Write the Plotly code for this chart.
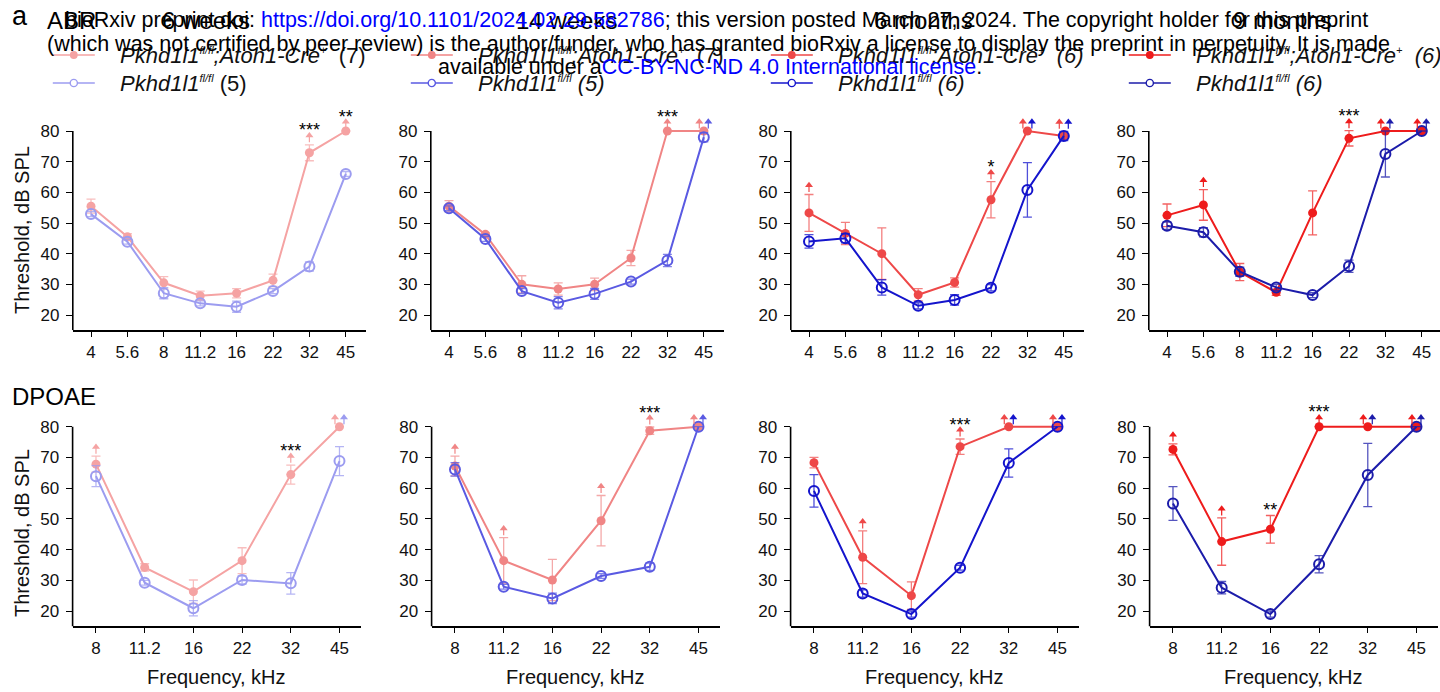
import plotly.graph_objects as go

W, H = 1440, 692

# ---------------- data ----------------
ABR_FREQ = ["4", "5.6", "8", "11.2", "16", "22", "32", "45"]
DPOAE_FREQ = ["8", "11.2", "16", "22", "32", "45"]
AGES = ["6 weeks", "14 weeks", "6 months", "9 months"]
N_CRE = ["(7)", "(7)", "<i>(6)</i>", "<i>(6)</i>"]
N_CTRL = ["(5)", "<i>(5)</i>", "<i>(6)</i>", "<i>(6)</i>"]
Y_TICKS = [20, 30, 40, 50, 60, 70, 80]

# ABR thresholds (mean, SEM), dB SPL
abr_6w_cre = [55.5, 45.5, 30.5, 26.3, 27.1, 31.3, 72.9, 80.0]
abr_6w_cre_sem = [2.3, 1.0, 2.0, 1.5, 1.5, 2.0, 2.6, 0.0]
abr_6w_ctrl = [52.9, 43.9, 27.1, 23.8, 22.7, 27.8, 35.8, 66.0]
abr_6w_ctrl_sem = [0.8, 0.8, 1.8, 0.8, 1.8, 0.8, 1.5, 0.8]
abr_6w_cre_up = [0, 0, 0, 0, 0, 0, 1, 1]
abr_6w_ctrl_up = [0, 0, 0, 0, 0, 0, 0, 0]
abr_6w_sig = ["", "", "", "", "", "", "***", "**"]

abr_14w_cre = [55.5, 46.3, 30.0, 28.5, 30.0, 38.6, 80.0, 80.0]
abr_14w_cre_sem = [1.8, 0.5, 2.8, 2.0, 2.0, 2.5, 0.0, 0.0]
abr_14w_ctrl = [54.8, 44.8, 27.8, 24.0, 26.9, 30.9, 37.8, 78.0]
abr_14w_ctrl_sem = [0.8, 0.8, 0.8, 2.0, 1.8, 0.8, 2.0, 1.5]
abr_14w_cre_up = [0, 0, 0, 0, 0, 0, 1, 1]
abr_14w_ctrl_up = [0, 0, 0, 0, 0, 0, 0, 1]
abr_14w_sig = ["", "", "", "", "", "", "***", ""]

abr_6m_cre = [53.3, 46.6, 40.0, 26.6, 30.6, 57.6, 80.0, 78.4]
abr_6m_cre_sem = [6.0, 3.6, 8.4, 2.0, 1.5, 5.9, 0.0, 1.0]
abr_6m_ctrl = [44.0, 45.0, 29.0, 23.0, 24.9, 28.9, 60.8, 78.4]
abr_6m_ctrl_sem = [2.2, 1.5, 2.5, 1.0, 1.7, 1.0, 8.9, 1.5]
abr_6m_cre_up = [1, 0, 0, 0, 0, 1, 1, 1]
abr_6m_ctrl_up = [0, 0, 0, 0, 0, 0, 1, 1]
abr_6m_sig = ["", "", "", "", "", "*", "", ""]

abr_9m_cre = [52.5, 55.9, 34.0, 27.4, 53.3, 77.6, 80.0, 80.0]
abr_9m_cre_sem = [3.7, 5.0, 2.8, 1.0, 7.2, 2.5, 0.0, 0.0]
abr_9m_ctrl = [49.1, 47.0, 34.1, 29.0, 26.5, 35.9, 72.5, 80.0]
abr_9m_ctrl_sem = [1.2, 1.5, 1.5, 1.0, 0.8, 2.0, 7.5, 0.0]
abr_9m_cre_up = [0, 1, 0, 0, 0, 1, 1, 1]
abr_9m_ctrl_up = [0, 0, 0, 0, 0, 0, 1, 1]
abr_9m_sig = ["", "", "", "", "", "***", "", ""]

# DPOAE thresholds (mean, SEM), dB SPL
dp_6w_cre = [67.8, 34.2, 26.3, 36.4, 64.4, 80.0]
dp_6w_cre_sem = [2.6, 1.2, 3.8, 4.2, 3.1, 0.0]
dp_6w_ctrl = [63.9, 29.2, 20.9, 30.1, 29.0, 68.8]
dp_6w_ctrl_sem = [3.4, 0.8, 2.5, 1.3, 3.5, 4.7]
dp_6w_cre_up = [1, 0, 0, 0, 1, 1]
dp_6w_ctrl_up = [0, 0, 0, 0, 0, 1]
dp_6w_sig = ["", "", "", "", "***", ""]

dp_14w_cre = [67.2, 36.4, 30.1, 49.4, 78.7, 80.0]
dp_14w_cre_sem = [3.2, 7.5, 6.7, 8.2, 1.2, 0.0]
dp_14w_ctrl = [66.1, 27.9, 24.1, 31.4, 34.4, 80.0]
dp_14w_ctrl_sem = [2.2, 0.8, 1.7, 0.8, 1.2, 0.0]
dp_14w_cre_up = [1, 1, 0, 1, 1, 1]
dp_14w_ctrl_up = [0, 0, 0, 0, 0, 1]
dp_14w_sig = ["", "", "", "", "***", ""]

dp_6m_cre = [68.3, 37.5, 25.0, 73.5, 80.0, 80.0]
dp_6m_cre_sem = [1.7, 8.6, 4.5, 2.5, 0.0, 0.0]
dp_6m_ctrl = [59.1, 25.7, 19.0, 34.1, 68.2, 80.0]
dp_6m_ctrl_sem = [5.3, 1.2, 1.0, 0.8, 4.6, 0.0]
dp_6m_cre_up = [0, 1, 0, 1, 1, 1]
dp_6m_ctrl_up = [0, 0, 0, 0, 1, 1]
dp_6m_sig = ["", "", "", "***", "", ""]

dp_9m_cre = [72.6, 42.6, 46.6, 80.0, 80.0, 80.0]
dp_9m_cre_sem = [1.8, 7.7, 4.5, 0.0, 0.0, 0.0]
dp_9m_ctrl = [55.0, 27.6, 19.0, 35.2, 64.3, 80.0]
dp_9m_ctrl_sem = [5.5, 2.0, 1.0, 2.8, 10.3, 0.0]
dp_9m_cre_up = [1, 1, 0, 1, 1, 1]
dp_9m_ctrl_up = [0, 0, 0, 0, 1, 1]
dp_9m_sig = ["", "", "**", "***", "", ""]

ABR = [
    (abr_6w_cre, abr_6w_cre_sem, abr_6w_ctrl, abr_6w_ctrl_sem, abr_6w_cre_up, abr_6w_ctrl_up, abr_6w_sig),
    (abr_14w_cre, abr_14w_cre_sem, abr_14w_ctrl, abr_14w_ctrl_sem, abr_14w_cre_up, abr_14w_ctrl_up, abr_14w_sig),
    (abr_6m_cre, abr_6m_cre_sem, abr_6m_ctrl, abr_6m_ctrl_sem, abr_6m_cre_up, abr_6m_ctrl_up, abr_6m_sig),
    (abr_9m_cre, abr_9m_cre_sem, abr_9m_ctrl, abr_9m_ctrl_sem, abr_9m_cre_up, abr_9m_ctrl_up, abr_9m_sig),
]
DPOAE = [
    (dp_6w_cre, dp_6w_cre_sem, dp_6w_ctrl, dp_6w_ctrl_sem, dp_6w_cre_up, dp_6w_ctrl_up, dp_6w_sig),
    (dp_14w_cre, dp_14w_cre_sem, dp_14w_ctrl, dp_14w_ctrl_sem, dp_14w_cre_up, dp_14w_ctrl_up, dp_14w_sig),
    (dp_6m_cre, dp_6m_cre_sem, dp_6m_ctrl, dp_6m_ctrl_sem, dp_6m_cre_up, dp_6m_ctrl_up, dp_6m_sig),
    (dp_9m_cre, dp_9m_cre_sem, dp_9m_ctrl, dp_9m_ctrl_sem, dp_9m_cre_up, dp_9m_ctrl_up, dp_9m_sig),
]

# ---------------- style ----------------
COL_CRE = ["#F5A3A3", "#F08585", "#EE4848", "#EE1C1C"]
COL_CTRL = ["#9C9CF0", "#5A5AE2", "#1414CC", "#1C1CAA"]
FONT = "Liberation Sans, Arial, Helvetica, sans-serif"


def rgba(hx, a):
    hx = hx.lstrip("#")
    r, g, b = int(hx[0:2], 16), int(hx[2:4], 16), int(hx[4:6], 16)
    return f"rgba({r},{g},{b},{a})"


def fx(px):
    return px / W


def fy(py):
    return 1 - py / H


Y_RANGE = [15, 88]
ROWS = [
    dict(lefts=[72.8, 430.8, 790.8, 1148.8], sp=36.4, lo=-0.5, hi=7.55, y80=131.0, pxdb=3.067,
         freq=ABR_FREQ, data=ABR, off_px=4.5),
    dict(lefts=[72.6, 431.6, 790.6, 1149.6], sp=48.7, lo=-0.48, hi=5.45, y80=426.7, pxdb=3.072,
         freq=DPOAE_FREQ, data=DPOAE, off_px=4.5),
]

fig = go.Figure()
layout = dict(
    width=W, height=H, autosize=False,
    margin=dict(l=0, r=0, t=0, b=0, pad=0),
    paper_bgcolor="white", plot_bgcolor="white",
    showlegend=False,
    font=dict(family=FONT, size=17, color="black"),
)
shapes = []
annotations = []

SUP = '<sup><span style="font-size:11px">{}</span></sup>'
GENO_CRE = "<i>Pkhd1l1" + SUP.format("fl/fl") + ";Atoh1-Cre" + SUP.format("+") + "</i>"
GENO_CTRL = "<i>Pkhd1l1" + SUP.format("fl/fl") + "</i>"

k = 0
for r, row in enumerate(ROWS):
    for c in range(4):
        k += 1
        xn = "x" if k == 1 else f"x{k}"
        yn = "y" if k == 1 else f"y{k}"
        xa = "xaxis" if k == 1 else f"xaxis{k}"
        ya = "yaxis" if k == 1 else f"yaxis{k}"
        left = row["lefts"][c]
        hi = row["hi"]
        right = left + (hi - row["lo"]) * row["sp"]
        if right > W:
            right = W
            hi = row["lo"] + (right - left) / row["sp"]
        y_bot = row["y80"] + (80 - Y_RANGE[0]) * row["pxdb"]
        y_top = row["y80"] - (Y_RANGE[1] - 80) * row["pxdb"]
        freq = row["freq"]
        xs = list(range(len(freq)))
        layout[xa] = dict(
            domain=[fx(left), fx(right)], range=[row["lo"], hi], anchor=yn,
            showgrid=False, zeroline=False, showline=True, linecolor="black", linewidth=1.6,
            ticks="outside", ticklen=5, tickwidth=1.4, tickcolor="black",
            tickvals=xs, ticktext=freq, ticklabelstandoff=0,
            tickfont=dict(family=FONT, size=17, color="#111"),
        )
        layout[ya] = dict(
            domain=[fy(y_bot), fy(y_top)], range=Y_RANGE, anchor=xn,
            showgrid=False, zeroline=False, showline=False,
            ticks="outside", ticklen=6, tickwidth=1.4, tickcolor="black",
            tickvals=Y_TICKS, ticklabelstandoff=3,
            tickfont=dict(family=FONT, size=17, color="#111"),
        )
        shapes.append(dict(type="line", xref=f"{xn} domain", yref=yn, x0=0, x1=0,
                           y0=Y_RANGE[0], y1=80, line=dict(color="black", width=1.6)))

        cre, cre_sem, ctrl, ctrl_sem, cre_up, ctrl_up, sig = row["data"][c]
        cc, ck = COL_CRE[c], COL_CTRL[c]

        fig.add_trace(go.Scatter(
            x=xs, y=cre, xaxis=xn, yaxis=yn, mode="lines+markers", cliponaxis=False,
            line=dict(color=cc, width=2), marker=dict(size=9, color=cc, line=dict(width=0)),
            error_y=dict(type="data", array=cre_sem, visible=True, color=rgba(cc, 0.7),
                         thickness=1.3, width=4.5),
        ))
        fig.add_trace(go.Scatter(
            x=xs, y=ctrl, xaxis=xn, yaxis=yn, mode="lines+markers", cliponaxis=False,
            line=dict(color=ck, width=2),
            marker=dict(size=10, symbol="circle-open", color=ck, line=dict(width=2, color=ck)),
            error_y=dict(type="data", array=ctrl_sem, visible=True, color=rgba(ck, 0.75),
                         thickness=1.3, width=4.5),
        ))

        # "threshold above max" arrows and significance stars
        off = row["off_px"] / row["sp"]
        ax_cre, ay_cre, ax_ctrl, ay_ctrl = [], [], [], []
        sx, sy, st = [], [], []
        for i in xs:
            top_cre = cre[i] + cre_sem[i]
            top_ctrl = ctrl[i] + ctrl_sem[i]
            tops = []
            if cre_up[i]:
                tops.append(top_cre)
            if ctrl_up[i]:
                tops.append(top_ctrl)
            both = cre_up[i] and ctrl_up[i]
            arrow_y = max(tops) + 3 if tops else None
            if cre_up[i]:
                ax_cre.append(i - off if both else i)
                ay_cre.append(arrow_y)
            if ctrl_up[i]:
                ax_ctrl.append(i + off if both else i)
                ay_ctrl.append(arrow_y)
            if sig[i]:
                base = arrow_y + 2.8 if tops else max(top_cre, top_ctrl) + 3
                sx.append(i)
                sy.append(base - 1.6)
                st.append(sig[i])
        for axx, ayy, col in ((ax_cre, ay_cre, cc), (ax_ctrl, ay_ctrl, ck)):
            if axx:
                fig.add_trace(go.Scatter(
                    x=axx, y=ayy, xaxis=xn, yaxis=yn, mode="markers", cliponaxis=False,
                    marker=dict(symbol="triangle-up", size=7, color=col, line=dict(width=0)),
                    error_y=dict(type="data", symmetric=False, array=[0] * len(axx),
                                 arrayminus=[2.2] * len(axx), color=col, thickness=1.2, width=0),
                ))
        if sx:
            fig.add_trace(go.Scatter(
                x=sx, y=sy, xaxis=xn, yaxis=yn, mode="text", text=st, cliponaxis=False,
                textposition="middle center", textfont=dict(family=FONT, size=18, color="black"),
            ))

        # manual legend at the top of each column
        if r == 0:
            mx = left + 1
            for rowy, col, sym, label in (
                (55, cc, "filled", GENO_CRE + "\u00a0\u00a0" + N_CRE[c]),
                (83, ck, "open", GENO_CTRL + "\u00a0" + N_CTRL[c]),
            ):
                shapes.append(dict(type="line", xref="paper", yref="paper",
                                   x0=fx(mx - 21), x1=fx(mx + 21), y0=fy(rowy), y1=fy(rowy),
                                   line=dict(color=col, width=1.6)))
                rad = 3.2 if sym == "filled" else 3.6
                shapes.append(dict(type="circle", xref="paper", yref="paper",
                                   xsizemode="pixel", ysizemode="pixel",
                                   xanchor=fx(mx), yanchor=fy(rowy),
                                   x0=-rad, x1=rad, y0=-rad, y1=rad,
                                   fillcolor=col if sym == "filled" else "white",
                                   line=dict(color=col, width=1.4)))
                annotations.append(dict(xref="paper", yref="paper", x=fx(mx + 44), y=fy(rowy),
                                        xanchor="left", yanchor="middle", showarrow=False,
                                        text=label, font=dict(family=FONT, size=22, color="#111")))

# ---------------- texts ----------------
TITLE_X = [206, 566, 923, 1282]
for t, tx in zip(AGES, TITLE_X):
    annotations.append(dict(xref="paper", yref="paper", x=fx(tx), y=fy(20), xanchor="center",
                            yanchor="middle", showarrow=False, text=t,
                            font=dict(family=FONT, size=24, color="black")))

annotations += [
    dict(xref="paper", yref="paper", x=fx(10), y=fy(16), xanchor="left", yanchor="middle",
         showarrow=False, text="a", font=dict(family=FONT, size=27, color="black")),
    dict(xref="paper", yref="paper", x=fx(45), y=fy(20), xanchor="left", yanchor="middle",
         showarrow=False, text="ABR", font=dict(family=FONT, size=24, color="black")),
    dict(xref="paper", yref="paper", x=fx(10), y=fy(397), xanchor="left", yanchor="middle",
         showarrow=False, text="DPOAE", font=dict(family=FONT, size=24, color="black")),
]
for ycen in (230, 533):
    annotations.append(dict(xref="paper", yref="paper", x=fx(22), y=fy(ycen), xanchor="center",
                            yanchor="middle", showarrow=False, text="Threshold, dB SPL",
                            textangle=-90, font=dict(family=FONT, size=20, color="#111")))
for c in range(4):
    left = ROWS[1]["lefts"][c]
    right = min(W, left + (ROWS[1]["hi"] - ROWS[1]["lo"]) * ROWS[1]["sp"])
    annotations.append(dict(xref="paper", yref="paper", x=fx((left + right) / 2), y=fy(677),
                            xanchor="center", yanchor="middle", showarrow=False,
                            text="Frequency, kHz", font=dict(family=FONT, size=20, color="#111")))

# bioRxiv watermark (drawn on top)
WM = [
    ('bioRxiv preprint doi: <span style="color:#0000FF">https://doi.org/10.1101/2024.02.29.582786</span>'
     '; this version posted March 27, 2024. The copyright holder for this preprint', 20, 716),
    ("(which was not certified by peer review) is the author/funder, who has granted bioRxiv a license "
     "to display the preprint in perpetuity. It is made", 44, 718),
    ('available under a<span style="color:#0000FF">CC-BY-NC-ND 4.0 International license</span>.', 67, 710),
]
for txt, yy, xc in WM:
    annotations.append(dict(xref="paper", yref="paper", x=fx(xc), y=fy(yy), xanchor="center",
                            yanchor="middle", showarrow=False, text=txt,
                            font=dict(family=FONT, size=21.5, color="black")))

layout["shapes"] = shapes
layout["annotations"] = annotations
fig.update_layout(**layout)

fig.write_html("out.html", include_plotlyjs=True, full_html=True,
               config={"displayModeBar": False},
               post_script="document.body.style.margin='0px';")
